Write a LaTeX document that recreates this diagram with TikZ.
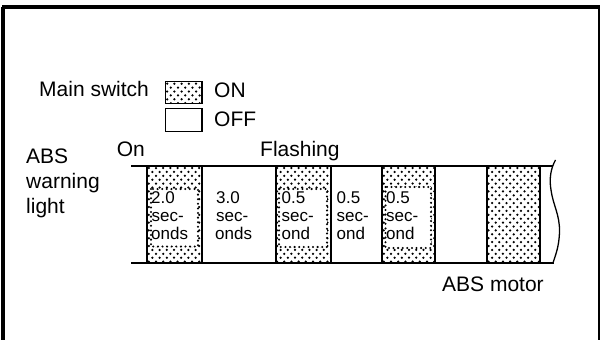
\documentclass[tikz,border=0pt]{standalone}
\usepackage{fontspec}
\setmainfont{Liberation Sans}
\newcommand\dotarea[4]{%
  \begin{scope}
    \clip (#1,#2) rectangle (#3,#4);
    \foreach \r in {0,...,26}{%
      \foreach \c in {0,...,8}{%
        \fill ({#1+1.5+\c*7.2+mod(\r,2)*3.6},{#2+2+\r*3.9}) circle (1.25pt);
      }}
  \end{scope}}
\begin{document}
\begin{tikzpicture}[x=1pt,y=-1pt,
  lbl/.style={anchor=base west,inner sep=0pt,font=\fontsize{21}{25}\selectfont},
  sm/.style={anchor=base west,inner sep=0pt,font=\fontsize{17}{18}\selectfont},
  bandline/.style={line width=2pt},
  colline/.style={line width=2pt},
  legbox/.style={line width=1.5pt},
  innerbox/.style={fill=white},
  innerdots/.style={draw=black,line width=2.3pt,dash pattern=on 0pt off 4.6pt,line cap=round}]
\useasboundingbox (0,0) rectangle (600,340);
% frame
\draw[line width=4pt] (2,7) -- (600,7);
\draw[line width=4pt] (3,7) -- (3,340);
\draw[line width=1.5pt] (599,7) -- (599,340);
% legend
\dotarea{165.7}{81.7}{202}{103.3}
\draw[legbox] (165.7,81.7) rectangle (202,103.3);
\draw[legbox] (165.7,108.3) rectangle (202,131.7);
\node[lbl] (tmain) at (39,96.5) {Main switch};
\node[lbl] (ton) at (214,97) {ON};
\node[lbl] (toff) at (214,126.7) {OFF};
% labels
\node[lbl] (tabs) at (26,163) {ABS};
\node[lbl] (twarn) at (26,188) {warning};
\node[lbl] (tlight) at (26,213) {light};
\node[lbl] (ton2) at (116.7,156) {On};
\node[lbl] (tflash) at (260,156) {Flashing};
\node[lbl] (tmotor) at (442,291.5) {ABS motor};
% dotted columns
\dotarea{147.3}{166}{201.7}{263}
\dotarea{275.5}{166}{330.5}{263}
\dotarea{382.3}{166}{434.8}{263}
\dotarea{487}{166}{539.5}{263}
% inner white windows
\fill[innerbox] (151,189) rectangle (198,246.5);
\draw[innerdots] (151,189) rectangle (198,246.5);
\fill[innerbox] (279,189) rectangle (327,247);
\draw[innerdots] (279,189) rectangle (327,247);
\fill[innerbox] (385.5,187) rectangle (431,248);
\draw[innerdots] (385.5,187) rectangle (431,248);
% column lines
\foreach \xx in {147.3,201.7,275.5,330.5,382.3,434.8,487,539.5}
  \draw[colline] (\xx,166) -- (\xx,263);
% band lines
\draw[bandline] (131,166) -- (552.5,166);
\draw[bandline] (131,263) -- (553.5,263);
% wavy end
\draw[line width=1.3pt] (555.5,160) .. controls (551,168) and (549,178) .. (551,190)
  .. controls (553,205) and (560,215) .. (559.5,232)
  .. controls (559,248) and (555,256) .. (553,263);
% column texts
\node[sm] (a1) at (151,203) {2.0};
\node[sm] (a2) at (151.5,221) {sec-};
\node[sm] (a3) at (151,239) {onds};
\node[sm] (b1) at (216,203) {3.0};
\node[sm] (b2) at (216,221) {sec-};
\node[sm] (b3) at (215,239) {onds};
\node[sm] (c1) at (281.5,203) {0.5};
\node[sm] (c2) at (281.5,221) {sec-};
\node[sm] (c3) at (281.5,239) {ond};
\node[sm] (d1) at (336.5,203) {0.5};
\node[sm] (d2) at (336.5,221) {sec-};
\node[sm] (d3) at (336.5,239) {ond};
\node[sm] (e1) at (386,203) {0.5};
\node[sm] (e2) at (386,221) {sec-};
\node[sm] (e3) at (386,239) {ond};
\end{tikzpicture}
\end{document}
